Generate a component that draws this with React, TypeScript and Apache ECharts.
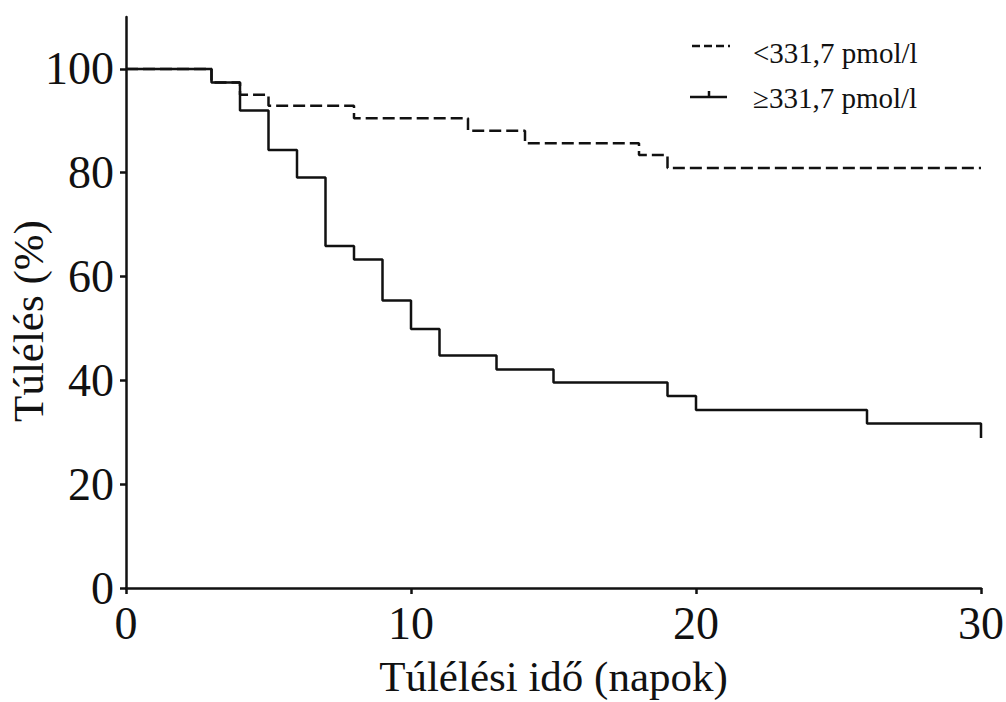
import React, { useEffect, useRef } from "react";
import * as echarts from "echarts";

const xTicks = [0, 10, 20, 30];
const yTicks = [0, 20, 40, 60, 80, 100];
const seriesNames = ["<331,7 pmol/l", "≥331,7 pmol/l"];
const xTitle = "Túlélési idő (napok)";
const yTitle = "Túlélés (%)";

// Kaplan-Meier step data [day, survival %]
const lowGroup: [number, number][] = [
  [0, 100], [3, 97.4], [4, 95.0], [5, 92.9], [8, 90.5], [12, 88.1],
  [14, 85.7], [18, 83.4], [19, 80.9], [30, 80.9],
];
const highGroup: [number, number][] = [
  [0, 100], [3, 97.4], [4, 92.0], [5, 84.4], [6, 79.1], [7, 65.9],
  [8, 63.3], [9, 55.4], [10, 49.9], [11, 44.8], [13, 42.1], [15, 39.6],
  [19, 37.0], [20, 34.3], [26, 31.7], [30, 31.7], [30, 28.9],
];

const FONT = '"Liberation Serif", "Times New Roman", serif';

export default function App() {
  const ref = useRef<HTMLDivElement>(null);
  useEffect(() => {
    if (!ref.current) return;
    const chart = echarts.init(ref.current, null, { renderer: "svg" });
    chart.setOption({
      animation: false,
      backgroundColor: "#fff",
      grid: { left: 126, right: 25, top: 17, bottom: 114, containLabel: false, outerBoundsMode: "none" },
      xAxis: {
        type: "value",
        min: 0,
        max: 30,
        interval: 10,
        name: xTitle,
        nameLocation: "middle",
        nameGap: 65,
        nameTextStyle: { fontFamily: FONT, fontSize: 43, color: "#111", lineHeight: 46 },
        axisLine: { show: true, lineStyle: { color: "#111", width: 2.5 } },
        axisTick: { show: true, length: 6, lineStyle: { color: "#111", width: 2.5 }, customValues: xTicks },
        axisLabel: { fontFamily: FONT, fontSize: 46, color: "#111", margin: 12, customValues: xTicks },
        splitLine: { show: false },
      },
      yAxis: {
        type: "value",
        min: 0,
        max: 110,
        interval: 20,
        axisLine: { show: true, onZero: false, lineStyle: { color: "#111", width: 2.5 } },
        axisTick: { show: true, length: 6, lineStyle: { color: "#111", width: 2.5 }, customValues: yTicks },
        axisLabel: { fontFamily: FONT, fontSize: 46, color: "#111", margin: 12, customValues: yTicks },
        splitLine: { show: false },
      },
      series: [
        {
          name: seriesNames[0],
          type: "line",
          step: "end",
          data: lowGroup,
          showSymbol: false,
          symbol: "none",
          lineStyle: { color: "#111", width: 2.5, type: [12, 5] },
          z: 3,
        },
        {
          name: seriesNames[1],
          type: "line",
          step: "end",
          data: highGroup,
          showSymbol: false,
          symbol: "none",
          lineStyle: { color: "#111", width: 2.5 },
          z: 4,
        },
      ],
      graphic: [
        {
          type: "text",
          x: 28,
          y: 321,
          rotation: Math.PI / 2,
          style: {
            text: yTitle,
            fontFamily: FONT,
            fontSize: 43,
            fill: "#111",
            align: "center",
            verticalAlign: "middle",
          },
        },
        {
          type: "line",
          shape: { x1: 692, y1: 46, x2: 730, y2: 46 },
          style: { stroke: "#111", lineWidth: 2.5, lineDash: [8, 4] },
        },
        {
          type: "text",
          x: 753,
          y: 53,
          style: { text: seriesNames[0], fontFamily: FONT, fontSize: 29, fill: "#111", align: "left", verticalAlign: "middle" },
        },
        {
          type: "line",
          shape: { x1: 690, y1: 97, x2: 727, y2: 97 },
          style: { stroke: "#111", lineWidth: 2.5 },
        },
        {
          type: "line",
          shape: { x1: 709, y1: 91, x2: 709, y2: 97 },
          style: { stroke: "#111", lineWidth: 2.5 },
        },
        {
          type: "text",
          x: 753,
          y: 98,
          style: { text: seriesNames[1], fontFamily: FONT, fontSize: 29, fill: "#111", align: "left", verticalAlign: "middle" },
        },
      ],
    });
    return () => chart.dispose();
  }, []);
  return <div ref={ref} style={{ position: "fixed", left: 0, top: 0, width: 1006, height: 702 }} />;
}
